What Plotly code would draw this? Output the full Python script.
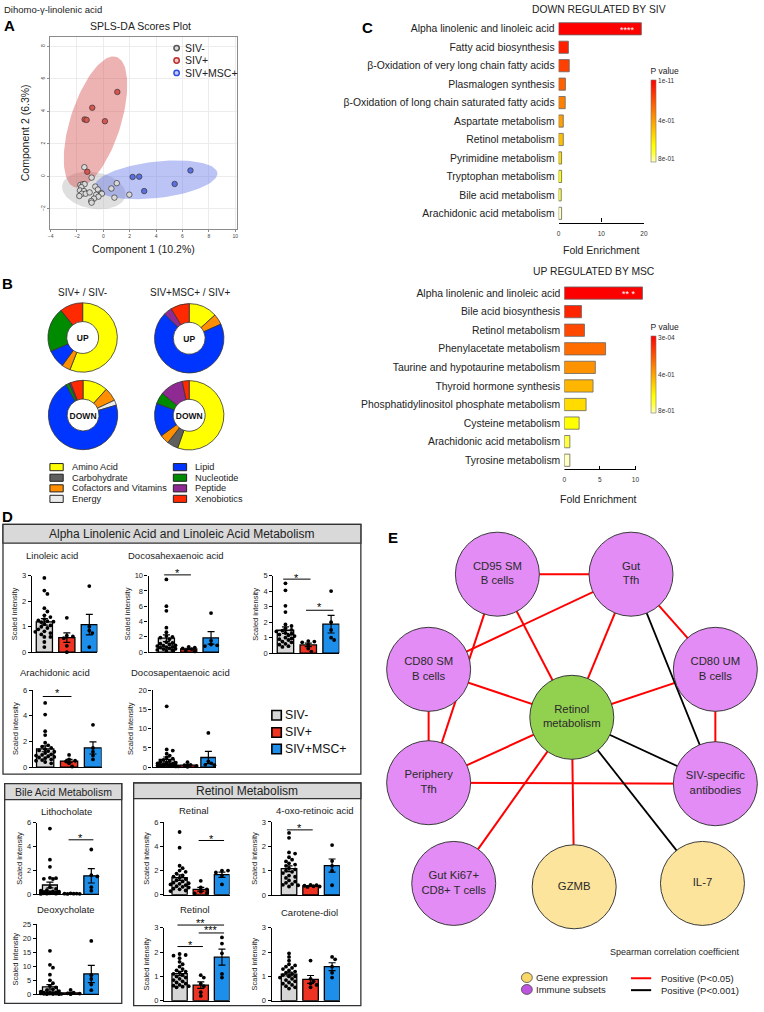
import colorsys
import numpy as np
import plotly.graph_objects as go

W, H = 764, 1012
FONT = "Arial, Liberation Sans, Helvetica, sans-serif"


def PX(x):
    return x / W


def PY(y):
    return 1 - y / H


# ============================ DATA ============================
# ---- Panel A : sPLS-DA scores (component 1, component 2) ----
a_groups = ["SIV-", "SIV+", "SIV+MSC+"]
a_neg_c1 = [-1.44, -0.89, -1.74, -1.54, -1.42, -1.67, -1.77, -1.47, -1.62, -1.34, -1.04, -1.82, -0.61,
            -0.41, -0.16, -0.54, -0.11, -0.37, -0.71, -0.92, -0.89, 0.61, 1.02, 0.84, 1.97]
a_neg_c2 = [0.56, -0.08, -0.53, -0.48, -0.48, -0.67, -0.87, -0.91, -1.07, -1.07, -0.99, -1.21, -0.63,
            -0.81, -1.03, -1.13, -1.07, -1.25, -1.37, -1.52, -1.62, -0.75, -0.42, -1.31, -1.13]
a_pos_c1 = [1.06, -0.84, -1.42, -1.27, 0.12, -1.22]
a_pos_c2 = [5.19, 4.22, 3.50, 3.47, 3.39, 0.28]
a_msc_c1 = [2.22, 2.72, 3.10, 5.41, 6.61]
a_msc_c2 = [-0.04, -0.02, -0.91, -0.47, 0.36]

# ---- Panel B : super-pathway composition (%) ----
pie_categories = ["Amino Acid", "Carbohydrate", "Cofactors and Vitamins", "Energy",
                  "Lipid", "Nucleotide", "Peptide", "Xenobiotics"]
pie_up_siv = [56.0, 0, 4.0, 0, 8.5, 20.8, 0, 10.7]
pie_up_msc = [13.3, 0, 5.0, 0, 69.1, 0, 3.9, 8.7]
pie_down_siv = [11.7, 0, 6.3, 2.4, 71.4, 1.6, 0.8, 5.8]
pie_down_msc = [55.4, 5.2, 4.3, 0, 15.7, 5.3, 10.9, 3.2]

# ---- Panel C : enrichment ----
c_down_labels = ["Alpha linolenic and linoleic acid", "Fatty acid biosynthesis",
                 "β-Oxidation of very long chain fatty acids", "Plasmalogen synthesis",
                 "β-Oxidation of long chain saturated fatty acids", "Aspartate metabolism",
                 "Retinol metabolism", "Pyrimidine metabolism", "Tryptophan metabolism",
                 "Bile acid metabolism", "Arachidonic acid metabolism"]
c_down_fold = [19.4, 2.3, 2.5, 1.6, 1.55, 1.1, 1.1, 0.7, 0.7, 0.62, 0.7]
c_down_sigrank = [10, 9, 8, 7, 6, 5, 4, 3, 2, 1, 0]
c_down_pticks = ["1e-11", "4e-01", "8e-01"]

c_up_labels = ["Alpha linolenic and linoleic acid", "Bile acid biosynthesis", "Retinol metabolism",
               "Phenylacetate metabolism", "Taurine and hypotaurine metabolism",
               "Thyroid hormone synthesis", "Phosphatidylinositol phosphate metabolism",
               "Cysteine metabolism", "Arachidonic acid metabolism", "Tyrosine metabolism"]
c_up_fold = [11.0, 2.42, 2.84, 5.81, 4.37, 4.05, 3.07, 2.09, 0.79, 0.79]
c_up_sigrank = [9, 8, 7, 6, 5, 4, 3, 2, 1, 0]
c_up_pticks = ["3e-04", "4e-01", "8e-01"]

# ---- Panel D : scaled intensities (SIV-, SIV+, SIV+MSC+) ----
d_groups = ["SIV-", "SIV+", "SIV+MSC+"]
linoleic_neg = [2.92, 2.42, 2.29, 1.73, 1.6, 1.45, 1.38, 1.3, 1.25, 1.22, 1.2, 1.18, 1.1, 1.05, 1.0,
                0.95, 0.9, 0.82, 0.75, 0.7, 0.8, 0.6, 0.6, 0.4, 0.2]
linoleic_pos = [1.35, 0.65, 0.62, 0.55, 0.25, 0.0]
linoleic_msc = [2.6, 1.0, 0.85, 0.75, 0.2]

dha_neg = [9.5, 6.0, 5.4, 3.2, 2.6, 2.1, 2.0, 1.9, 1.7, 1.3, 1.2, 1.1, 1.0, 0.9, 0.85, 0.8, 0.7,
           0.65, 0.6, 0.5, 0.45, 0.4, 0.3, 0.25, 0.2]
dha_pos = [0.7, 0.6, 0.5, 0.4, 0.2, 0.1]
dha_msc = [5.1, 1.5, 1.0, 0.9, 0.8]

dgla_neg = [4.5, 4.05, 3.05, 2.65, 1.85, 1.75, 1.6, 1.5, 1.45, 1.4, 1.3, 1.25, 1.2, 1.15, 1.1, 1.0,
            0.95, 0.9, 0.85, 0.75, 0.7, 0.6, 0.55, 0.45, 0.4]
dgla_pos = [0.78, 0.75, 0.7, 0.55, 0.3, 0.1]
dgla_msc = [4.0, 2.0, 1.5, 1.0, 0.85]

ara_neg = [5.0, 4.1, 2.8, 2.5, 1.9, 1.7, 1.6, 1.5, 1.4, 1.3, 1.25, 1.2, 1.1, 1.0, 0.95, 0.9, 0.85,
           0.8, 0.75, 0.7, 0.6, 0.55, 0.5, 0.4, 0.3]
ara_pos = [0.95, 0.6, 0.5, 0.45, 0.3, 0.05]
ara_msc = [3.3, 1.5, 1.2, 0.9, 0.6]

dpa_neg = [15.8, 4.6, 4.3, 3.5, 3.0, 2.5, 2.2, 1.9, 1.6, 1.4, 1.2, 1.1, 1.0, 0.9, 0.8, 0.7, 0.6,
           0.55, 0.5, 0.45, 0.4, 0.35, 0.3, 0.25, 0.2]
dpa_pos = [1.3, 0.6, 0.5, 0.3, 0.2, 0.1]
dpa_msc = [8.9, 1.5, 1.0, 0.6, 0.5]

litho_neg = [5.5, 2.9, 2.3, 1.38, 1.35, 1.3, 1.28, 0.6, 0.45, 0.35, 0.3, 0.25, 0.22, 0.2, 0.18,
             0.15, 0.15, 0.12, 0.1, 0.1, 0.08, 0.08, 0.05, 0.05, 0.03]
litho_pos = [0.08, 0.06, 0.05, 0.05, 0.04, 0.03]
litho_msc = [3.75, 1.6, 1.5, 0.6, 0.3]

deoxy_neg = [15.5, 10.5, 9.5, 7.0, 5.0, 4.0, 3.0, 2.5, 1.8, 1.5, 1.2, 1.0, 0.8, 0.7, 0.6, 0.5,
             0.45, 0.4, 0.35, 0.3, 0.25, 0.2, 0.15, 0.1, 0.1]
deoxy_pos = [1.6, 0.6, 0.4, 0.3, 0.2, 0.1]
deoxy_msc = [19.0, 6.8, 5.5, 3.5, 1.5]

retinal_neg = [5.2, 3.9, 2.4, 2.2, 2.0, 1.9, 1.75, 1.6, 1.5, 1.4, 1.3, 1.2, 1.1, 1.0, 0.95, 0.9,
               0.85, 0.8, 0.7, 0.65, 0.6, 0.5, 0.45, 0.35, 0.3]
retinal_pos = [1.15, 0.6, 0.45, 0.25, 0.15, 0.1]
retinal_msc = [2.0, 2.0, 1.85, 1.6, 0.85]

oxo_neg = [2.55, 2.35, 1.75, 1.7, 1.55, 1.45, 1.38, 1.3, 1.25, 1.2, 1.1, 1.05, 1.0, 0.95, 0.9, 0.8,
           0.75, 0.7, 0.6, 0.55, 0.5, 0.45, 0.42, 0.4, 0.35]
oxo_pos = [0.42, 0.4, 0.38, 0.36, 0.35, 0.33]
oxo_msc = [2.05, 1.4, 1.2, 1.0, 0.4]

retinol_neg = [1.92, 1.88, 1.85, 1.75, 1.6, 1.5, 1.4, 1.3, 1.25, 1.2, 1.15, 1.1, 1.05, 1.0, 0.95,
               0.9, 0.85, 0.8, 0.75, 0.7, 0.65, 0.62, 0.6, 0.58, 0.55]
retinol_pos = [1.05, 0.95, 0.7, 0.6, 0.35, 0.2]
retinol_msc = [2.6, 2.35, 1.95, 1.1, 0.95]

carot_neg = [1.95, 1.8, 1.65, 1.5, 1.45, 1.4, 1.35, 1.3, 1.25, 1.2, 1.15, 1.1, 1.05, 1.0, 1.0,
             0.95, 0.9, 0.85, 0.8, 0.75, 0.7, 0.65, 0.6, 0.55, 0.5]
carot_pos = [1.65, 0.9, 0.8, 0.7, 0.65, 0.55]
carot_msc = [1.8, 1.7, 1.4, 1.15, 0.95]

# ---- Panel E : correlation network ----
e_nodes = ["CD95 SM<br>B cells", "Gut<br>Tfh", "CD80 SM<br>B cells", "CD80 UM<br>B cells",
           "Retinol<br>metabolism", "Periphery<br>Tfh", "SIV-specific<br>antibodies",
           "Gut Ki67+<br>CD8+ T cells", "GZMB", "IL-7"]
e_node_type = ["immune", "immune", "immune", "immune", "metabolite", "immune", "immune",
               "immune", "gene", "gene"]
e_edges_p05 = [(0, 1), (0, 4), (0, 5), (1, 2), (1, 4), (1, 3), (2, 4), (2, 5), (3, 4), (3, 6),
               (4, 5), (4, 7), (4, 8), (5, 6)]
e_edges_p001 = [(1, 6), (4, 6), (4, 9)]

# ============================ STYLE / GEOMETRY ============================
e_node_x = [499.3, 634, 430, 719, 574.3, 430, 719, 455.3, 576.7, 706]
e_node_y = [575.3, 575.3, 671.3, 671.3, 719.7, 785.7, 786.7, 887.3, 890.7, 887.3]
e_type_color = {"immune": "#e38cf6", "metabolite": "#92d050", "gene": "#fde49c"}

pie_colors = ["#ffff00", "#5f5f5f", "#ff8f00", "#ececec", "#0035ff", "#008a00", "#8e2a92", "#ff2a00"]
d_colors = ["#d6d6d6", "#ee3322", "#1d8fea"]


def heat_colors(n):
    """R's heat.colors palette."""
    j = n // 4
    i = n - j
    cols = []
    for k in range(i):
        r, g, b = colorsys.hsv_to_rgb((1 / 6) * k / (i - 1), 1, 1)
        cols.append("#%02x%02x%02x" % (round(r * 255), round(g * 255), round(b * 255)))
    if j > 0:
        s_hi, s_lo = 1 - 1 / (2 * j), 1 / (2 * j)
        for k in range(j):
            s = s_hi - (k * (s_hi - s_lo) / (j - 1) if j > 1 else 0)
            cols.append("#ffff%02x" % round((1 - s) * 255))
    return cols


def heat_scale(n):
    hc = heat_colors(n)
    return [[k / (n - 1), hc[n - 1 - k]] for k in range(n)]


def conf_ellipse(xs, ys, t=2.4477, n=120):
    xs, ys = np.asarray(xs, float), np.asarray(ys, float)
    vals, vecs = np.linalg.eigh(np.cov(xs, ys))
    th = np.linspace(0, 2 * np.pi, n)
    pts = vecs @ (np.sqrt(vals)[:, None] * np.vstack([np.cos(th), np.sin(th)])) * t
    return xs.mean() + pts[0], ys.mean() + pts[1]


def swarm_offsets(vals, sx, sy, dot=3.6):
    placed, offs = [], []
    for v in vals:
        best, bestd = 0.0, -1.0
        for m in [0, 1, -1, 2, -2, 3, -3]:
            o = m * dot * 0.85 / sx
            dmin = min([np.hypot((o - po) * sx, (v - pv) * sy) for po, pv in placed], default=99)
            if dmin >= dot:
                best = o
                break
            if dmin > bestd:
                bestd, best = dmin, o
        placed.append((best, v))
        offs.append(best)
    return offs


fig = go.Figure()
ann, shapes, lay = [], [], {}


def add_text(x, y, text, size=10, color="#222", xanchor="center", yanchor="middle", bold=False,
             angle=0):
    ann.append(dict(x=PX(x), y=PY(y), xref="paper", yref="paper",
                    text=f"<b>{text}</b>" if bold else text, showarrow=False,
                    xanchor=xanchor, yanchor=yanchor, textangle=angle,
                    font=dict(size=size, color=color, family=FONT)))


# ============================ PANEL A ============================
a_sets = [
    ("SIV-", a_neg_c1, a_neg_c2, "rgba(185,185,185,0.45)", "#d9d9d9", "#555555", "#dddddd"),
    ("SIV+", a_pos_c1, a_pos_c2, "rgba(215,85,85,0.45)", "#d9534f", "#b8302c", "#f2c4c4"),
    ("SIV+MSC+", a_msc_c1, a_msc_c2, "rgba(95,115,230,0.42)", "#5a6fe0", "#2f4de0", "#c4ccf6"),
]
for name, xs, ys, fill, pcol, lcol, lfill in a_sets:
    ex, ey = conf_ellipse(xs, ys)
    fig.add_trace(go.Scatter(x=ex, y=ey, mode="lines", line=dict(width=0), fill="toself",
                             fillcolor=fill, hoverinfo="skip", showlegend=False, xaxis="x", yaxis="y"))
for name, xs, ys, fill, pcol, lcol, lfill in a_sets:
    fig.add_trace(go.Scatter(x=xs, y=ys, mode="markers", name=name, showlegend=False,
                             marker=dict(size=5.5, color=pcol, line=dict(color="#333", width=0.7)),
                             xaxis="x", yaxis="y"))
# legend of panel A
for (name, xs, ys, fill, pcol, lcol, lfill), ly in zip(a_sets, [44.5, 57.0, 69.5]):
    shapes.append(dict(type="circle", xref="paper", yref="paper", x0=PX(173.3), x1=PX(178.7),
                       y0=PY(ly + 2.7), y1=PY(ly - 2.7), fillcolor=lfill,
                       line=dict(color=lcol, width=1.5)))
    ann.append(dict(x=PX(182), y=PY(ly), xref="paper", yref="paper", text=name, showarrow=False,
                    xanchor="left", yanchor="middle",
                    font=dict(size=10.5, color="#222", family=FONT)))

lay["xaxis"] = dict(domain=[PX(48), PX(237)], range=[-4.075, 10.15], tickvals=list(range(-4, 11, 2)),
                    tickfont=dict(size=5, color="#444"), showgrid=True, gridcolor="#ececec",
                    zeroline=False, showline=True, linecolor="#8c8c8c", linewidth=1, mirror=True,
                    ticks="outside", ticklen=2, tickcolor="#8c8c8c", anchor="y",
                    title=dict(text="Component 1 (10.2%)", font=dict(size=10.5, color="#222", family=FONT),
                               standoff=7))
lay["yaxis"] = dict(domain=[PY(227), PY(33)], range=[-3.24, 8.59], tickvals=list(range(-2, 9, 2)),
                    tickangle=-90, tickfont=dict(size=5, color="#444"), showgrid=True,
                    gridcolor="#ececec", zeroline=False, showline=True, linecolor="#8c8c8c",
                    linewidth=1, mirror=True, ticks="outside", ticklen=2, tickcolor="#8c8c8c",
                    anchor="x",
                    title=dict(text="Component 2 (6.3%)", font=dict(size=10.5, color="#222", family=FONT),
                               standoff=7))
add_text(140, 22, "SPLS-DA Scores Plot", size=10.5)
add_text(0, 6, "Dihomo-γ-linolenic acid", size=9.5, xanchor="left")

# ============================ PANEL B ============================
b_centers = [(81.3, 336.5), (188.7, 337.3), (81.7, 414.7), (188.7, 415.0)]
b_sets = [(pie_up_siv, "UP"), (pie_up_msc, "UP"), (pie_down_siv, "DOWN"), (pie_down_msc, "DOWN")]
R = 35
for (cx, cy), (vals, lab) in zip(b_centers, b_sets):
    labs = [c for c, v in zip(pie_categories, vals) if v > 0]
    vv = [v for v in vals if v > 0]
    cols = [pie_colors[pie_categories.index(c)] for c in labs]
    fig.add_trace(go.Pie(labels=labs, values=vv, sort=False, direction="clockwise", rotation=0,
                         hole=0.46, marker=dict(colors=cols, line=dict(color="#333", width=0.8)),
                         textinfo="none", showlegend=False,
                         domain=dict(x=[PX(cx - R), PX(cx + R)], y=[PY(cy + R), PY(cy - R)]),
                         title=dict(text=f"<b>{lab}</b>", position="middle center",
                                    font=dict(size=8.5, color="#111", family=FONT))))
add_text(81.5, 290.7, "SIV+ / SIV-", size=10)
add_text(189, 290.7, "SIV+MSC+ / SIV+", size=10)
b_leg_rows = [467.3, 478.0, 488.7, 499.3]
for col, (bx, tx) in enumerate([(48.3, 68.3), (172.7, 192.7)]):
    for row in range(4):
        ci = col * 4 + row
        y = b_leg_rows[row]
        shapes.append(dict(type="rect", xref="paper", yref="paper", x0=PX(bx), x1=PX(bx + 13.4),
                           y0=PY(y + 3.6), y1=PY(y - 3.6), fillcolor=pie_colors[ci],
                           line=dict(color="#222", width=1)))
        add_text(tx, y, pie_categories[ci], size=9.2, xanchor="left")

# ============================ PANEL C ============================
for (labels, fold, sig, ticks_txt, xa, ya, cb_mid, cb_len, stars) in [
    (c_down_labels, c_down_fold, c_down_sigrank, c_down_pticks, "x2", "y2", 110.0, 98.0, "****"),
    (c_up_labels, c_up_fold, c_up_sigrank, c_up_pticks, "x3", "y3", 366.4, 92.7, "** *"),
]:
    n = len(labels)
    fig.add_trace(go.Bar(
        x=fold, y=labels, orientation="h", width=0.66, xaxis=xa, yaxis=ya, showlegend=False,
        marker=dict(color=sig, colorscale=heat_scale(n), cmin=0, cmax=n - 1, showscale=True,
                    line=dict(color="#666", width=0.8),
                    colorbar=dict(x=PX(654), xanchor="left", y=PY(cb_mid), yanchor="middle",
                                  len=cb_len / H, lenmode="fraction", thickness=5, xpad=0, ypad=0,
                                  outlinewidth=0.6, outlinecolor="#777",
                                  tickvals=[n - 1 - 0.15, (n - 1) / 2, 0.3], ticktext=ticks_txt,
                                  ticks="", tickfont=dict(size=6.5, color="#333", family=FONT),
                                  title=dict(text="P value", side="top",
                                             font=dict(size=8.5, color="#222", family=FONT))))))
    ann.append(dict(x=fold[0], y=labels[0], xref=xa, yref=ya, text=stars, showarrow=False,
                    xanchor="right", xshift=-4, yshift=-1,
                    font=dict(size=9, color="white", family=FONT)))

lay["xaxis2"] = dict(domain=[PX(561), PX(647)], range=[0, 20], tickvals=[0, 10, 20], ticks="inside",
                     ticklen=4, tickwidth=1.2, tickcolor="black", showline=True, linecolor="black",
                     linewidth=1.2, tickfont=dict(size=6.5, color="#333", family=FONT),
                     ticklabelstandoff=5, anchor="y2", showgrid=False, zeroline=False)
lay["yaxis2"] = dict(domain=[PY(220.5), PY(15.7)], type="category", categoryorder="array",
                     categoryarray=c_down_labels, range=[10.5, -0.5], ticks="", showline=False,
                     tickfont=dict(size=10.4, color="#222", family=FONT), ticklabelstandoff=3,
                     anchor="x2", showgrid=False, zeroline=False)
lay["xaxis3"] = dict(domain=[PX(566.7), PX(647.7)], range=[0, 11.3], tickvals=[0, 5, 10],
                     ticks="inside", ticklen=4, tickwidth=1.2, tickcolor="black", showline=False,
                     tickfont=dict(size=6.5, color="#333", family=FONT), ticklabelstandoff=5,
                     anchor="y3", showgrid=False, zeroline=False)
lay["yaxis3"] = dict(domain=[PY(469.7), PY(282.3)], type="category", categoryorder="array",
                     categoryarray=c_up_labels, range=[9.5, -0.5], ticks="", showline=False,
                     tickfont=dict(size=10.4, color="#222", family=FONT), ticklabelstandoff=3,
                     anchor="x3", showgrid=False, zeroline=False)
shapes.append(dict(type="line", xref="x3", yref="y3 domain", x0=0, x1=10, y0=0, y1=0,
                   line=dict(color="black", width=1.2)))
add_text(602, 6, "DOWN REGULATED BY SIV", size=10.3)
add_text(597, 269.5, "UP REGULATED BY MSC", size=10.3)
add_text(604, 248, "Fold Enrichment", size=10.5)
add_text(601, 499, "Fold Enrichment", size=10.5)

# ============================ PANEL D ============================
d_sets = [
    ("Linoleic acid", linoleic_neg, linoleic_pos, linoleic_msc),
    ("Docosahexaenoic acid", dha_neg, dha_pos, dha_msc),
    ("Dihomo-γ-linolenic acid", dgla_neg, dgla_pos, dgla_msc),
    ("Arachidonic acid", ara_neg, ara_pos, ara_msc),
    ("Docosapentaenoic acid", dpa_neg, dpa_pos, dpa_msc),
    ("Lithocholate", litho_neg, litho_pos, litho_msc),
    ("Deoxycholate", deoxy_neg, deoxy_pos, deoxy_msc),
    ("Retinal", retinal_neg, retinal_pos, retinal_msc),
    ("4-oxo-retinoic acid", oxo_neg, oxo_pos, oxo_msc),
    ("Retinol", retinol_neg, retinol_pos, retinol_msc),
    ("Carotene-diol", carot_neg, carot_pos, carot_msc),
]
# axis_x, first bar centre, last bar centre, y of zero, y of top, ymax, dtick, title x, title y
d_geom = [
    (30.0, 42.7, 88.0, 654.0, 577.0, 3, 1, 50, 556),
    (147.7, 165.7, 210.7, 654.0, 576.7, 10, 2, 175, 556),
    (273.3, 285.7, 331.7, 655.0, 576.7, 5, 1, None, None),
    (31.0, 43.5, 91.7, 770.0, 692.3, 6, 2, 53.3, 675),
    (151.7, 166.0, 208.0, 770.0, 692.3, 20, 5, 180, 675),
    (35.0, 48.3, 90.0, 898.3, 826.0, 6, 2, 65, 814.3),
    (35.0, 48.3, 90.0, 999.3, 928.3, 25, 5, 65, 913.3),
    (163.3, 179.0, 221.7, 898.7, 825.7, 6, 2, 194, 813.3),
    (271.7, 289.3, 332.7, 899.0, 825.3, 3, 1, 315, 813.3),
    (163.3, 179.0, 221.7, 1005.7, 932.0, 3, 1, 194.7, 914),
    (271.7, 289.3, 332.7, 1005.7, 932.0, 3, 1, 310, 916.7),
]
BW = 0.72
for idx, (title, neg, pos, msc) in enumerate(d_sets):
    n = idx + 4
    ax_x, c0, c2, y0, ytop, ymax, dt, tx, ty = d_geom[idx]
    s = (c2 - c0) / 2
    left = (ax_x - c0) / s
    right = 2 + BW / 2
    sy = (y0 - ytop) / ymax
    xa, ya = f"x{n}", f"y{n}"
    for k, (vals, gname, gcol) in enumerate(zip((neg, pos, msc), d_groups, d_colors)):
        v = np.asarray(vals, float)
        mean = v.mean()
        sem = v.std(ddof=1) / np.sqrt(len(v))
        fig.add_trace(go.Bar(x=[k], y=[mean], width=BW, name=gname, showlegend=False,
                             xaxis=xa, yaxis=ya,
                             marker=dict(color=gcol, line=dict(color="black", width=1.3)),
                             error_y=dict(type="data", array=[sem], color="black", thickness=1.2,
                                          width=3.5)))
    for k, vals in enumerate((neg, pos, msc)):
        offs = swarm_offsets(vals, s, sy)
        fig.add_trace(go.Scatter(x=[k + o for o in offs], y=vals, mode="markers", showlegend=False,
                                 marker=dict(size=3.8, color="black"), xaxis=xa, yaxis=ya,
                                 cliponaxis=False, hoverinfo="skip"))
    lay[f"xaxis{n}"] = dict(domain=[PX(ax_x), PX(c0 + right * s)], range=[left, right], anchor=ya,
                            showline=True, linecolor="black", linewidth=1.1, showticklabels=False,
                            ticks="", showgrid=False, zeroline=False)
    lay[f"yaxis{n}"] = dict(domain=[PY(y0), PY(ytop)], range=[0, ymax], dtick=dt, anchor=xa,
                            showline=True, linecolor="black", linewidth=1.1, ticks="outside",
                            ticklen=3, tickwidth=1, tickcolor="black",
                            tickfont=dict(size=7.5, color="#222", family=FONT), showgrid=False,
                            zeroline=False,
                            title=dict(text="Scaled intensity", standoff=3,
                                       font=dict(size=7.5, color="#222", family=FONT)))
    if tx is not None:
        add_text(tx, ty, title, size=9.5)

# significance brackets: subplot, bar i, bar j, line y, star y, label
d_brackets = [
    (1, 0, 1, 576.0, 570.7, "*"),
    (2, 0, 1, 580.3, 575.7, "*"),
    (2, 1, 2, 611.7, 605.0, "*"),
    (3, 0, 1, 698.7, 692.0, "*"),
    (5, 1, 2, 843.3, 838.3, "*"),
    (7, 1, 2, 844.0, 839.0, "*"),
    (8, 0, 1, 833.3, 828.3, "*"),
    (9, 0, 1, 951.0, 946.7, "*"),
    (9, 0, 2, 929.3, 924.0, "**"),
    (9, 1, 2, 937.3, 931.7, "***"),
]
for (idx, i, j, ly, sty, txt) in d_brackets:
    n = idx + 4
    shapes.append(dict(type="line", xref=f"x{n}", yref="paper", x0=i - 0.1, x1=j + 0.1,
                       y0=PY(ly), y1=PY(ly), line=dict(color="black", width=1)))
    ann.append(dict(x=(i + j) / 2, xref=f"x{n}", y=PY(sty + 3), yref="paper", text=txt,
                    showarrow=False, xanchor="center", yanchor="middle",
                    font=dict(size=11, color="black", family=FONT)))

# boxes with header bars
for (x0, x1, y0, yh, y1, head, hsize) in [
    (1.0, 361.7, 525.0, 544.0, 777.0, "Alpha Linolenic Acid and Linoleic Acid Metabolism", 12),
    (2.7, 120.7, 786.7, 802.7, 1008.3, "Bile Acid Metabolism", 10.5),
    (132.7, 361.7, 786.0, 801.7, 1010.7, "Retinol Metabolism", 12),
]:
    shapes.append(dict(type="rect", xref="paper", yref="paper", x0=PX(x0), x1=PX(x1), y0=PY(y1),
                       y1=PY(y0), line=dict(color="#333", width=1.3), fillcolor="rgba(0,0,0,0)"))
    shapes.append(dict(type="rect", xref="paper", yref="paper", x0=PX(x0), x1=PX(x1), y0=PY(yh),
                       y1=PY(y0), line=dict(color="#333", width=1.3), fillcolor="#d9d9d9"))
    add_text((x0 + x1) / 2, (y0 + yh) / 2 + 0.5, head, size=hsize)

# legend of panel D
for gname, gcol, ly in zip(d_groups, d_colors, [717.7, 735.0, 751.7]):
    shapes.append(dict(type="rect", xref="paper", yref="paper", x0=PX(272), x1=PX(281.5),
                       y0=PY(ly + 4.8), y1=PY(ly - 4.8), fillcolor=gcol,
                       line=dict(color="black", width=1.6)))
    add_text(283.3, ly, gname, size=12.3, color="#111", xanchor="left")

# ============================ PANEL E ============================
for edges, col, wd in [(e_edges_p05, "#ff0000", 2.0), (e_edges_p001, "#000000", 1.8)]:
    ex, ey = [], []
    for a, b in edges:
        ex += [e_node_x[a], e_node_x[b], None]
        ey += [e_node_y[a], e_node_y[b], None]
    fig.add_trace(go.Scatter(x=ex, y=ey, mode="lines", line=dict(color=col, width=wd),
                             showlegend=False, hoverinfo="skip", xaxis="x15", yaxis="y15"))
fig.add_trace(go.Scatter(x=e_node_x, y=e_node_y, mode="markers+text", text=e_nodes,
                         textposition="middle center", showlegend=False, cliponaxis=False,
                         marker=dict(size=84, color=[e_type_color[t] for t in e_node_type],
                                     line=dict(color="#3a3a3a", width=1), opacity=1),
                         textfont=dict(size=11.3, color="#2a2a2a", family=FONT),
                         xaxis="x15", yaxis="y15", hoverinfo="text"))
lay["xaxis15"] = dict(domain=[PX(380), 1], range=[380, 764], visible=False, anchor="y15")
lay["yaxis15"] = dict(domain=[0, PY(500)], range=[1012, 500], visible=False, anchor="x15")

add_text(678, 956.7, "Spearman correlation coefficient", size=9)
for (cy, fillc, label) in [(982.3, "#f8d868", "Gene expression"), (994.3, "#bd55df", "Immune subsets")]:
    shapes.append(dict(type="circle", xref="paper", yref="paper", x0=PX(523.5), x1=PX(534.5),
                       y0=PY(cy + 5), y1=PY(cy - 5), fillcolor=fillc, line=dict(color="#444", width=0.8)))
    add_text(536, cy, label, size=9.5, xanchor="left")
for (cy, col, label) in [(983, "#ff0000", "Positive (P&lt;0.05)"), (995, "#000000", "Positive (P&lt;0.001)")]:
    shapes.append(dict(type="line", xref="paper", yref="paper", x0=PX(634), x1=PX(654.3),
                       y0=PY(cy), y1=PY(cy), line=dict(color=col, width=2)))
    add_text(661.7, cy, label, size=9.5, xanchor="left")

# ============================ PANEL LETTERS ============================
for (x, y, L) in [(8, 22, "A"), (6, 282, "B"), (368, 24, "C"), (6, 517, "D"), (394, 538, "E")]:
    add_text(x, y, L, size=15, color="#000", bold=True)

fig.update_layout(
    width=W, height=H, autosize=False, margin=dict(l=0, r=0, t=0, b=0), showlegend=False,
    paper_bgcolor="white", plot_bgcolor="white", barmode="overlay",
    font=dict(family=FONT, color="#222"), annotations=ann, shapes=shapes, **lay)

fig.write_html("out.html", config={"displayModeBar": False},
               post_script="document.body.style.margin='0px';")
